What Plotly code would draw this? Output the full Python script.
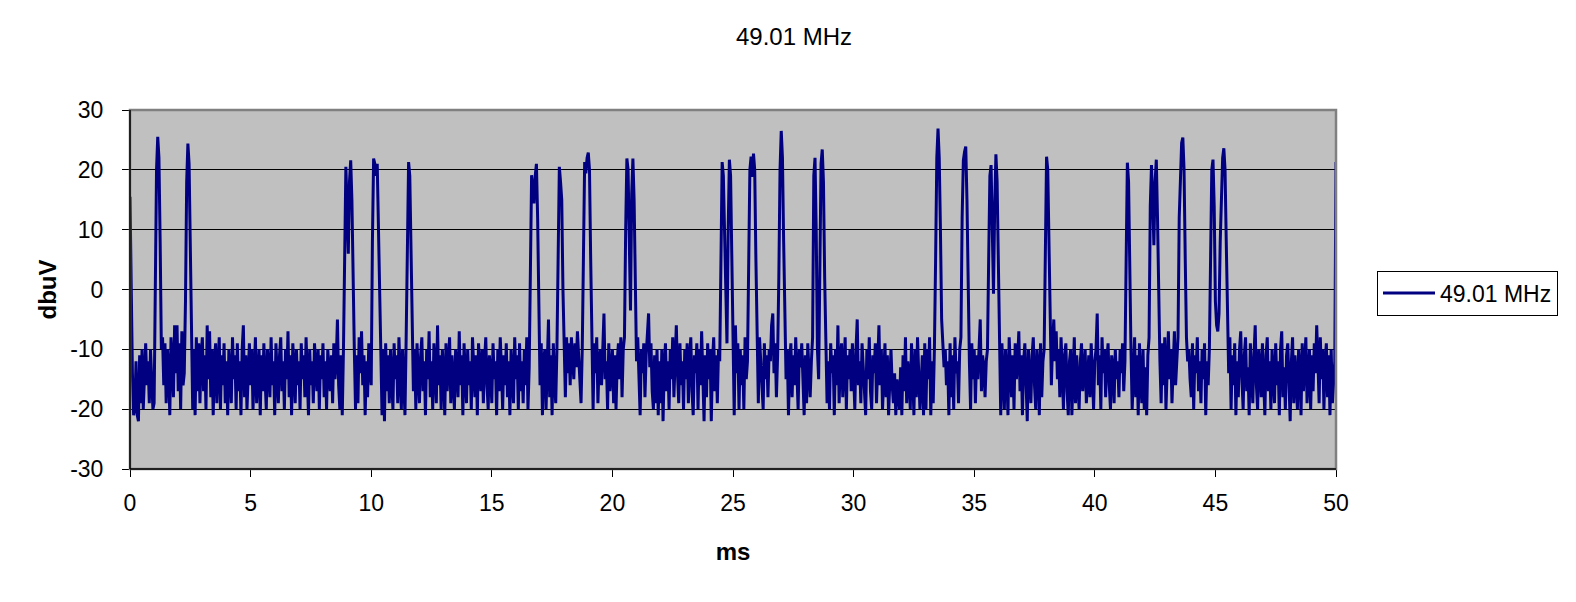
# ======================================================================
# Time trace of the 49.01 MHz channel (dbuV against ms), redrawn as a
# single Plotly line chart and saved to out.html.
# ======================================================================

import plotly.graph_objects as go

TITLE = "49.01 MHz"
SERIES_NAME = "49.01 MHz"
X_TITLE = "ms"
Y_TITLE = "dbuV"

# Sample spacing of the trace (ms)
t_start = 0.0
t_step = 0.05

x_ticks = [0, 5, 10, 15, 20, 25, 30, 35, 40, 45, 50]
y_ticks = [-30, -20, -10, 0, 10, 20, 30]
# plain hyphen for negatives, as in the original
y_tick_labels = ["-30", "-20", "-10", "0", "10", "20", "30"]

# Level in dbuV, one row per millisecond (20 samples each)
dbuv = [
    15.5, 0, -14, -21, -20, -12, -21, -22, -11, -19, -10, -20, -14, -9, -16, -12, -19, -10, -15, -20,   # 0
    -19, 2, 20, 25.5, 22, 8, -10, -8, -16, -9, -19, -10, -13, -21, -8, -12, -18, -6, -14, -6,          # 1
    -17, -9, -20, -7, -16, -14, -2, 18, 24.4, 21, 8, -6, -20, -10, -21, -8, -17, -9, -19, -11,         # 2
    -8, -17, -11, -20, -6, -15, -7, -18, -10, -21, -12, -9, -19, -13, -8, -20, -11, -16, -9, -19,      # 3
    -12, -21, -10, -14, -19, -8, -15, -11, -20, -9, -17, -12, -21, -10, -6, -18, -11, -20, -13, -9,    # 4
    -16, -10, -20, -12, -8, -19, -14, -10, -21, -11, -17, -9, -15, -20, -10, -13, -18, -8, -16, -12,   # 5
    -21, -9, -14, -19, -11, -8, -17, -12, -20, -10, -15, -7, -18, -11, -21, -9, -13, -19, -10, -16,    # 6
    -12, -20, -9, -15, -11, -18, -8, -14, -21, -10, -16, -12, -19, -9, -13, -17, -10, -20, -11, -15,   # 7
    -9, -18, -12, -20, -10, -14, -17, -11, -19, -9, -15, -12, -5, -16, -20, -11, -21, -10, 8, 20.5,    # 8
    14, 6, 18, 21.6, 15, 0, -10, -20, -11, -19, -8, -14, -7, -16, -11, -21, -12, -18, -9, -13,         # 9
    -16, 8, 21.9, 21, 19, 21, 10, -4, -12, -21, -10, -22, -9, -17, -11, -19, -10, -14, -20, -9,        # 10
    -15, -11, -19, -8, -13, -20, -10, -16, -21, -8, 12, 21.3, 19, 8, -6, -17, -10, -20, -9, -14,       # 11
    -19, -11, -8, -17, -12, -21, -10, -15, -7, -18, -12, -20, -9, -13, -19, -6, -16, -11, -20, -10,    # 12
    -14, -21, -9, -17, -12, -8, -19, -11, -15, -20, -10, -13, -18, -7, -16, -11, -21, -9, -14, -19,    # 13
    -10, -16, -12, -20, -8, -15, -18, -11, -21, -9, -13, -17, -10, -19, -12, -8, -16, -20, -11, -14,   # 14
    -19, -9, -15, -12, -21, -10, -17, -8, -13, -20, -11, -16, -9, -18, -12, -21, -10, -14, -19, -8,    # 15
    -15, -11, -20, -9, -17, -12, -19, -10, -16, -8, -20, -13, 2, 19.1, 17, 14.4, 19, 21, 12, -8,       # 16
    -16, -9, -21, -12, -10, -20, -14, -5, -18, -11, -21, -9, -15, -19, -10, 5, 20.5, 18, 15, 0,        # 17
    -12, -18, -8, -14, -9, -16, -8, -11, -15, -9, -13, -7, -12, -17, -19, -10, 8, 21.3, 19.4, 22,      # 18
    22.9, 20, 5, -10, -20, -9, -14, -8, -19, -12, -10, -16, -11, -4, -15, -12, -20, -9, -17, -13,      # 19
    -10, -19, -11, -20, -12, -9, -15, -8, -18, -10, -8, 10, 21.9, 20, 5, -3.5, 16, 21.9, 15, -2,       # 20
    -12, -8, -15, -21, -10, -14, -9, -18, -11, -6, -4, -13, -9, -17, -20, -11, -19, -10, -21, -12,     # 21
    -19, -10, -22, -13, -9, -17, -12, -20, -10, -15, -8, -18, -11, -6, -14, -19, -9, -16, -12, -20,    # 22
    -10, -15, -9, -19, -12, -8, -17, -21, -11, -14, -9, -20, -10, -16, -7, -13, -22, -11, -18, -9,     # 23
    -15, -10, -22, -12, -8, -17, -11, -19, -10, -12, 5, 21.3, 19, 8, -4, -9, 10, 21.7, 19, 5,          # 24
    -8, -21, -6, -14, -9, -20, -10, -16, -11, -20, -8, -15, -12, 2, 20, 22.2, 18.8, 22.7, 20, 5,       # 25
    -10, -19, -8, -13, -17, -20, -9, -15, -11, -18, -10, -12, -6, -4, -14, -9, -18, -11, 2, 20,        # 26
    26.5, 22, 8, -8, -15, -10, -21, -12, -9, -18, -11, -16, -8, -14, -20, -10, -13, -9, -17, -21,      # 27
    -11, -19, -9, -14, -18, -12, -8, 19, 22, 10, -10, -15, 5, 21, 23.4, 18, 2, -10, -19, -12,          # 28
    -20, -9, -14, -11, -21, -10, -16, -6, -19, -12, -9, -18, -13, -8, -20, -11, -15, -10, -17, -9,     # 29
    -14, -20, -10, -5, -16, -12, -19, -9, -13, -18, -21, -10, -15, -8, -17, -20, -11, -14, -9, -19,    # 30
    -12, -6, -16, -10, -20, -13, -9, -18, -11, -21, -15, -10, -16, -19, -14, -21, -15, -18, -20, -13,  # 31
    -21, -11, -17, -8, -19, -12, -15, -20, -9, -14, -21, -10, -18, -8, -13, -20, -16, -11, -21, -9,    # 32
    -20, -10, -15, -8, -21, -12, -19, -10, 5, 22, 26.9, 22, 10, -5, -9, -13, -10, -16, -12, -21,       # 33
    -9, -18, -11, -20, -8, -14, -12, -19, -10, -8, 12, 21.6, 23, 23.9, 15, -2, -12, -20, -9, -15,      # 34
    -10, -19, -11, -15, -9, -5, -17, -11, -13, -18, -12, -10, 5, 19, 20.8, 12, -0.7, 14, 22.6, 18,     # 35
    3, -10, -21, -9, -16, -20, -10, -14, -21, -8, -13, -18, -11, -20, -9, -15, -12, -7, -17, -11,      # 36
    -21, -12, -9, -17, -22, -10, -15, -19, -11, -8, -16, -20, -10, -13, -21, -9, -18, -12, -10, 8,     # 37
    22.2, 20, 5, -8, -16, -9, -5, -12, -7, -15, -10, -18, -8, -13, -20, -11, -9, -17, -21, -12,        # 38
    -10, -21, -14, -8, -19, -11, -16, -20, -12, -9, -17, -13, -10, -19, -15, -11, -18, -9, -14, -20,   # 39
    -12, -10, -4, -16, -11, -20, -8, -14, -10, -18, -12, -9, -16, -20, -11, -13, -19, -10, -15, -12,   # 40
    -18, -10, -14, -9, -17, -12, 5, 21.2, 18, 2, -10, -20, -12, -8, -18, -11, -21, -9, -15, -19,       # 41
    -10, -20, -13, -21, -11, -8, 14, 20.8, 15, 7.4, 18, 21.7, 12, -3, -12, -19, -9, -16, -8, -20,      # 42
    -11, -7, -15, -10, -19, -12, -7, -16, -11, -8, 12, 21, 24.5, 25.4, 20, 5, -8, -12, -10, -15,       # 43
    -18, -9, -20, -11, -14, -8, -17, -12, -19, -10, -15, -9, -21, -12, -16, -10, 8, 20, 21.7, 14,      # 44
    -2, -6, -7, -4, 8, 18, 22, 23.6, 20, 8, -5, -14, -8, -20, -11, -16, -9, -21, -12, -18,             # 45
    -10, -7, -15, -20, -11, -8, -17, -13, -21, -9, -14, -19, -11, -6, -16, -20, -10, -13, -18, -9,     # 46
    -15, -21, -11, -8, -17, -12, -20, -10, -14, -19, -9, -16, -12, -21, -10, -7, -18, -13, -20, -11,   # 47
    -9, -16, -22, -12, -8, -19, -11, -15, -20, -10, -13, -21, -9, -17, -12, -8, -19, -14, -10, -20,    # 48
    -11, -17, -9, -14, -6, -12, -19, -8, -15, -10, -20, -12, -9, -18, -11, -21, -10, -19, -14, -12,    # 49
    21.3,                                                                                              # 50
]

FONT = "Liberation Sans, Arial, sans-serif"

# the page body keeps its 8px margin, so the figure is offset by 8px
FIG_W = 1568
FIG_H = 586

fig = go.Figure()

fig.add_trace(
    go.Scatter(
        x0=t_start,
        dx=t_step,
        y=dbuv,
        mode='lines',
        name=SERIES_NAME,
        line=dict(color='#000080', width=3),
        showlegend=True
    )
)

fig.update_layout(
    width=FIG_W,
    height=FIG_H,
    paper_bgcolor='white',
    plot_bgcolor='#C0C0C0',
    font=dict(family=FONT, color='black', size=23),
    title=dict(
        text=TITLE,
        x=(786 - 122) / (FIG_W - 122 - 240),
        xref='paper',
        xanchor='center',
        y=1 - 29 / FIG_H,
        yanchor='middle',
        font=dict(family=FONT, size=24, color='black')
    ),
    xaxis=dict(
        range=[0, 50],
        tickmode='array',
        tickvals=x_ticks,
        ticks='outside',
        ticklen=7,
        tickcolor='black',
        ticklabelstandoff=6,
        showgrid=False,
        zeroline=False,
        showline=False,
        automargin=False,
        tickfont=dict(size=23),
        title=dict(text="<b>" + X_TITLE + "</b>", font=dict(size=24),
                   standoff=28)
    ),
    yaxis=dict(
        range=[-30, 30],
        tickmode='array',
        tickvals=y_ticks,
        ticktext=y_tick_labels,
        ticks='outside',
        ticklen=7,
        tickcolor='black',
        ticklabelstandoff=14,
        showgrid=True,
        gridcolor='black',
        gridwidth=1,
        zeroline=False,
        showline=False,
        automargin=False,
        tickfont=dict(size=23),
        title=dict(text="<b>" + Y_TITLE + "</b>", font=dict(size=24),
                   standoff=6)
    ),
    legend=dict(
        x=1.034,
        xanchor='left',
        y=0.49,
        yanchor='middle',
        bgcolor='white',
        bordercolor='black',
        borderwidth=1,
        itemwidth=52,
        font=dict(family=FONT, size=23, color='black')
    ),
    margin=dict(l=122, r=240, t=102, b=125, autoexpand=False),
    shapes=[
        # grey frame of the plot area, black axis lines on left and bottom
        dict(type='rect', xref='x domain', yref='y domain',
             x0=0, x1=1, y0=0, y1=1,
             line=dict(color='#808080', width=2.5), layer='above'),
        dict(type='line', xref='x domain', yref='y domain',
             x0=0, x1=0, y0=0, y1=1,
             line=dict(color='black', width=1.5), layer='above'),
        dict(type='line', xref='x domain', yref='y domain',
             x0=0, x1=1, y0=0, y1=0,
             line=dict(color='black', width=1.5), layer='above'),
    ]
)

fig.write_html("out.html")
